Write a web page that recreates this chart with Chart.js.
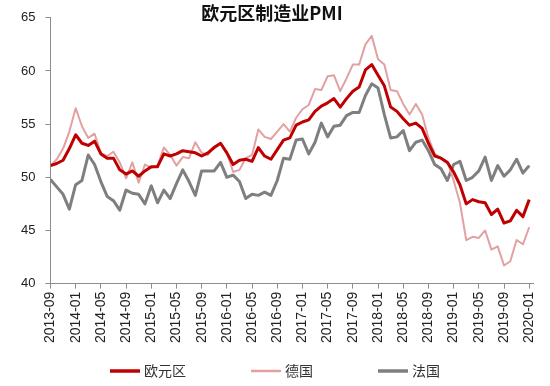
<!DOCTYPE html>
<html>
<head>
<meta charset="utf-8">
<script src="https://cdn.jsdelivr.net/npm/chart.js@4.4.1/dist/chart.umd.min.js"></script>
<style>
  html, body { margin: 0; padding: 0; background: #fff; }
  #wrap { width: 550px; height: 386px; }
</style>
</head>
<body>
<div id="wrap"><canvas id="myChart"></canvas></div>
<script>
// months 2013-09 .. 2020-01
const months = []
for (let y = 2013, m = 9; y < 2020 || (y == 2020 && m <= 1); m++) {
  if (m > 12) { m = 1; y++ }
  if (y == 2020 && m > 1) break
  months.push(y + '-' + (m < 10 ? '0' + m : m))
}

const euroZone = [
  51.1, 51.3, 51.6, 52.7,
  54.0, 53.2, 53.0, 53.4, 52.2, 51.8, 51.8, 50.7, 50.3, 50.6, 50.1, 50.6,
  51.0, 51.0, 52.2, 52.0, 52.2, 52.5, 52.4, 52.3, 52.0, 52.3, 52.8, 53.2,
  52.3, 51.2, 51.6, 51.7, 51.5, 52.8, 52.0, 51.7, 52.6, 53.5, 53.7, 54.9,
  55.2, 55.4, 56.2, 56.7, 57.0, 57.4, 56.6, 57.4, 58.1, 58.5, 60.1, 60.6,
  59.6, 58.6, 56.6, 56.2, 55.5, 54.9, 55.1, 54.6, 53.2, 52.0, 51.8, 51.4,
  50.5, 49.3, 47.5, 47.9, 47.7, 47.6, 46.5, 47.0, 45.7, 45.9, 46.9, 46.3,
  47.9
]
const germany = [
  51.1, 51.7, 52.7, 54.3,
  56.5, 54.8, 53.7, 54.1, 52.3, 52.0, 52.4, 51.4, 49.9, 51.4, 49.5, 51.2,
  50.9, 51.1, 52.8, 52.1, 51.1, 51.9, 51.8, 53.3, 52.3, 52.1, 52.9, 53.2,
  52.3, 50.5, 50.7, 51.8, 52.1, 54.5, 53.8, 53.6, 54.3, 55.0, 54.3, 55.6,
  56.4, 56.8, 58.3, 58.2, 59.5, 59.6, 58.1, 59.3, 60.6, 60.6, 62.5, 63.3,
  61.1, 60.6, 58.2, 58.1, 56.9, 55.9, 56.9, 55.9, 53.7, 52.2, 51.8, 51.5,
  49.7, 47.6, 44.1, 44.4, 44.3, 45.0, 43.2, 43.5, 41.7, 42.1, 44.1, 43.7,
  45.3
]
const france = [
  49.8, 49.1, 48.4, 47.0,
  49.3, 49.7, 52.1, 51.2, 49.6, 48.2, 47.8, 46.9, 48.8, 48.5, 48.4, 47.5,
  49.2, 47.6, 48.8, 48.0, 49.4, 50.7, 49.6, 48.3, 50.6, 50.6, 50.6, 51.4,
  50.0, 50.2, 49.6, 48.0, 48.4, 48.3, 48.6, 48.3, 49.7, 51.8, 51.7, 53.5,
  53.6, 52.2, 53.3, 55.1, 53.8, 54.8, 54.9, 55.8, 56.1, 56.1, 57.7, 58.8,
  58.4, 55.9, 53.7, 53.8, 54.4, 52.5, 53.3, 53.5, 52.5, 51.2, 50.8, 49.7,
  51.2, 51.5, 49.7, 50.0, 50.6, 51.9, 49.7, 51.1, 50.1, 50.7, 51.7, 50.4,
  51.1
]

const AXIS_COLOR = '#8c8c8c'
const TICK_FONT = { family: '"Liberation Sans", Arial, sans-serif', size: 13 }

function toPoints(values) {
  return values.map((v, i) => ({ x: i, y: v }))
}

// legend drawn by hand: short lines with wide gaps between items
const lineLegend = {
  id: 'lineLegend',
  afterDraw(chart) {
    const ctx = chart.ctx
    const lineW = 30, textGap = 4, itemGap = 65, y = 371
    ctx.save()
    ctx.font = '14px "Noto Sans CJK SC"'
    ctx.textBaseline = 'middle'
    const items = chart.data.datasets.map(ds => ({ ds: ds, w: lineW + textGap + ctx.measureText(ds.label).width }))
    const total = items.reduce((s, it) => s + it.w, 0) + itemGap * (items.length - 1)
    let x = (chart.width - total) / 2
    items.forEach(it => {
      ctx.strokeStyle = it.ds.borderColor
      ctx.lineWidth = it.ds.borderWidth + 0.5
      ctx.beginPath()
      ctx.moveTo(x, y)
      ctx.lineTo(x + lineW, y)
      ctx.stroke()
      ctx.fillStyle = '#333'
      ctx.fillText(it.ds.label, x + lineW + textGap, y)
      x += it.w + itemGap
    })
    ctx.restore()
  }
}

const ctx = document.getElementById('myChart')
new Chart(ctx, {
  type: 'line',
  data: {
    datasets: [
      { label: '欧元区', data: toPoints(euroZone), borderColor: '#c00000', borderWidth: 3 },
      { label: '德国', data: toPoints(germany), borderColor: '#e3a0a2', borderWidth: 2 },
      { label: '法国', data: toPoints(france), borderColor: '#7f7f7f', borderWidth: 3 }
    ]
  },
  options: {
    responsive: true,
    maintainAspectRatio: false,
    animation: false,
    elements: {
      point: { radius: 0 },
      line: { tension: 0, borderJoinStyle: 'round' }
    },
    layout: { padding: { left: 11, right: 17, top: 0, bottom: 40 } },
    scales: {
      x: {
        type: 'linear',
        min: 0,
        max: months.length - 1 + 0.6,
        grid: {
          drawOnChartArea: false,
          tickLength: 5,
          color: AXIS_COLOR
        },
        border: { color: AXIS_COLOR, width: 1 },
        ticks: {
          stepSize: 4,
          includeBounds: false,
          autoSkip: false,
          maxRotation: 90,
          minRotation: 90,
          padding: 3,
          color: '#222',
          font: { family: TICK_FONT.family, size: 14 },
          callback: v => months[v]
        }
      },
      y: {
        min: 40,
        max: 65,
        grid: {
          drawOnChartArea: false,
          tickLength: 5,
          color: AXIS_COLOR
        },
        border: { color: AXIS_COLOR, width: 1 },
        ticks: {
          stepSize: 5,
          padding: 10,
          color: '#222',
          font: TICK_FONT
        }
      }
    },
    plugins: {
      legend: { display: false },
      tooltip: { enabled: false },
      title: {
        display: true,
        text: '欧元区制造业PMI',
        color: '#111',
        font: { family: '"Noto Sans CJK SC"', size: 18, weight: 'bold' },
        padding: { top: 2, bottom: -6 }
      }
    }
  },
  plugins: [lineLegend]
})
</script>
</body>
</html>
